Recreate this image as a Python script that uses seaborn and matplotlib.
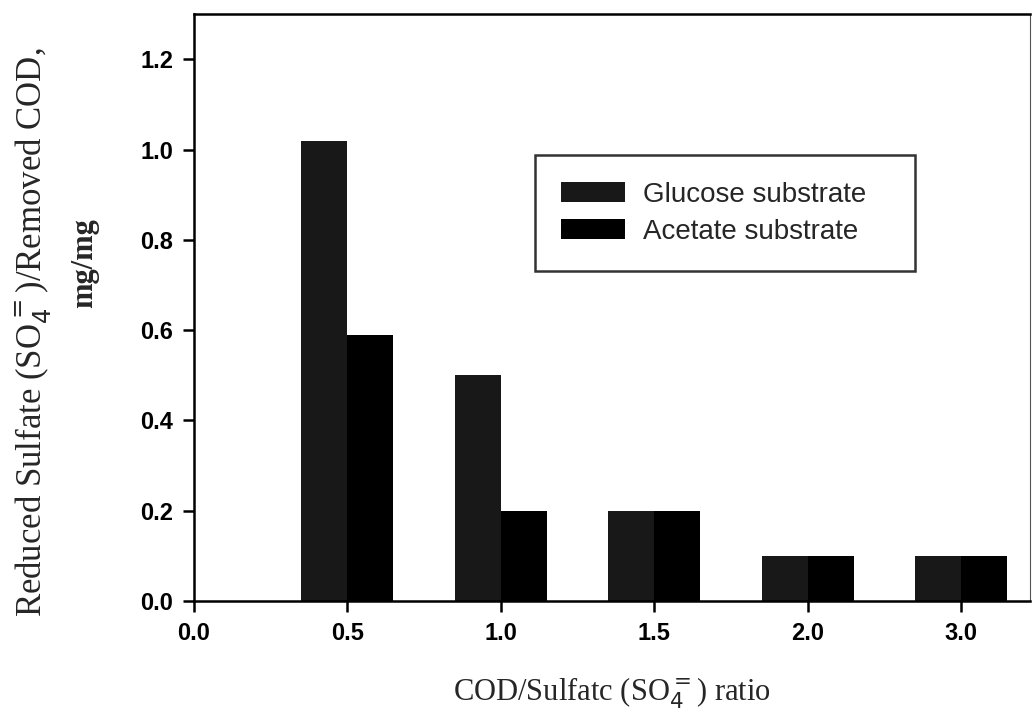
import pandas as pd
import matplotlib
matplotlib.use("Agg")
import matplotlib.pyplot as plt
import seaborn as sns

# Data
ratios = ["0.5", "1.0", "1.5", "2.0", "3.0"]
tick_labels = ["0.0", "0.5", "1.0", "1.5", "2.0", "3.0"]
glucose = [1.02, 0.50, 0.20, 0.10, 0.10]
acetate = [0.59, 0.20, 0.20, 0.10, 0.10]

df = pd.DataFrame({
    "ratio": ratios * 2,
    "value": glucose + acetate,
    "substrate": ["Glucose substrate"] * len(ratios) + ["Acetate substrate"] * len(ratios),
})

sns.set_style("ticks")
plt.rcParams["font.family"] = ["Liberation Sans", "DejaVu Sans"]

fig = plt.figure(figsize=(10.32, 7.18), dpi=100)
ax = fig.add_axes([0.188, 0.163, 0.81, 0.817])

sns.barplot(data=df, x="ratio", y="value", hue="substrate", order=tick_labels,
            palette=["#181818", "#000000"], width=0.6, gap=0, saturation=1,
            edgecolor="none", linewidth=0, errorbar=None, ax=ax)

ax.set_xlim(0, 5.45)
ax.set_ylim(0, 1.3)
ax.set_yticks([0.0, 0.2, 0.4, 0.6, 0.8, 1.0, 1.2])
ax.set_yticklabels(["0.0", "0.2", "0.4", "0.6", "0.8", "1.0", "1.2"])
ax.set_xticks(range(len(tick_labels)))
ax.set_xticklabels(tick_labels)
ax.tick_params(axis="both", direction="out", length=8, width=1.8,
               labelsize=17, pad=7, colors="black")
for lab in ax.get_xticklabels() + ax.get_yticklabels():
    lab.set_fontweight("bold")

for side in ["left", "bottom", "top"]:
    ax.spines[side].set_visible(True)
    ax.spines[side].set_linewidth(1.8)
    ax.spines[side].set_color("black")
ax.spines["right"].set_visible(True)
ax.spines["right"].set_linewidth(0.8)
ax.spines["right"].set_color("#555555")

ax.set_xlabel("COD/Sulfatc (SO$_4^{=}$) ratio", fontfamily="Liberation Serif",
              fontsize=22, labelpad=22)
ax.set_ylabel("")
fig.text(0.032, 0.537, "Reduced Sulfate (SO$_4^{=}$)/Removed COD,",
         rotation=90, ha="center", va="center", fontfamily="Liberation Serif",
         fontsize=25)
fig.text(0.082, 0.634, "mg/mg", rotation=90, ha="center", va="center",
         fontfamily="Liberation Serif", fontsize=22, fontweight="bold")

leg = ax.legend(loc="upper left", bbox_to_anchor=(0.408, 0.56, 0.4545, 0.2),
                mode="expand", frameon=True, fancybox=False, fontsize=20,
                handlelength=2.3, handleheight=0.7, borderpad=0.95,
                labelspacing=0.4, handletextpad=0.65, borderaxespad=0)
leg.get_frame().set_edgecolor("black")
leg.get_frame().set_linewidth(1.8)

fig.savefig("out.png", dpi=100)
